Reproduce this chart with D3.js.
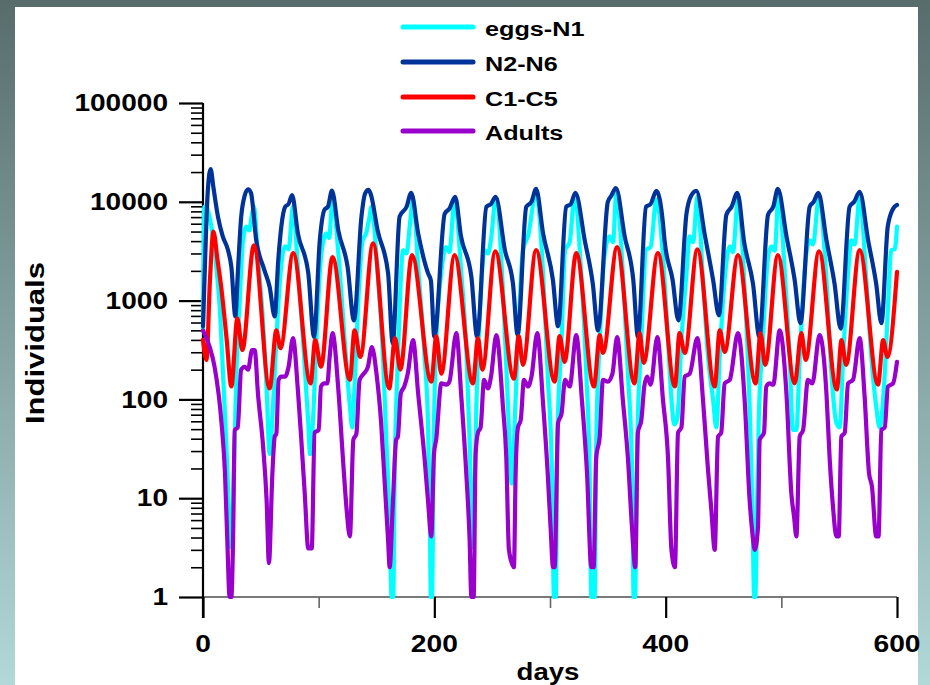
<!DOCTYPE html>
<html>
<head>
<meta charset="utf-8">
<script src="https://cdn.jsdelivr.net/npm/d3@7"></script>
<style>
  body { margin: 0; }
  svg { display: block; }
  text { font-family: "Liberation Sans", Arial, sans-serif; font-weight: bold; fill: #000; }
</style>
</head>
<body>
<svg id="chart" width="930" height="685"></svg>
<script>
// ---- data: [day, individuals] ----
const seriesNames = ["eggs-N1", "N2-N6", "C1-C5", "Adults"];
const seriesColors = ["#00ffff", "#003399", "#ff0000", "#9900cc"];
const xTickValues = [0, 200, 400, 600];
const xMinorValues = [100, 300, 500];
const yTickValues = [1, 10, 100, 1000, 10000, 100000];
const yTickLabels = ["1", "10", "100", "1000", "10000", "100000"];

const eggsN1 = [[0,500],[1,8900],[3,8900],[5,7600],[7.2,5620],[11.5,2190],[14.4,870],[17.3,182],[20,39],[22,10],[24,3.2],[26,7.9],[28.8,182],[31.7,1000],[34.6,4070],[37.5,5620],[40,5130],[42.4,7600],[44,8900],[47.5,2750],[52,589],[55,126],[57.6,28],[60.5,85],[63.4,398],[67,1900],[71,3550],[74,3300],[77.8,8900],[82,2190],[86.5,398],[91,58],[92.5,28],[95,58],[98,398],[102,2750],[106.6,4790],[109,4300],[112,10500],[117,3020],[122.5,398],[127,85],[129,52],[131,135],[134,870],[138,4070],[141,4790],[144,7080],[145.5,8900],[151,1900],[155.6,269],[158.5,39],[161.4,5.5],[163,1],[164.5,1],[165.7,18],[168,182],[170,870],[173,3240],[176,3000],[178.7,5620],[181.6,10500],[186,2190],[191.6,269],[194.5,58],[196,7.9],[197,1],[198,1],[199.5,40],[201.7,398],[206,1900],[210,3470],[213,3100],[217.5,10500],[223.3,1900],[227.6,339],[230.5,39],[233,3.2],[234.5,7.9],[236.3,85],[239,589],[243.5,3240],[246.4,3000],[249,4170],[253,10500],[259.3,1290],[263.7,85],[267,14],[270,85],[273,589],[276.6,3240],[281,4500],[288,12300],[294,1900],[298,182],[301.7,18],[303.4,1],[305,1],[306.3,39],[310,398],[313,3240],[317,3900],[321,10500],[327,1900],[331.4,182],[334.3,18],[335.7,1],[338.6,1],[340,39],[343,398],[347,2750],[351.6,4470],[354.5,3900],[357.3,12300],[363,1900],[367.4,182],[371,18],[372.3,1],[373.5,1],[375.5,39],[379,398],[383,3240],[387,3500],[392,10500],[397.7,2750],[402,398],[405,100],[407.5,56],[410,63],[413.6,398],[418,1900],[420.8,4470],[423.7,3900],[427.4,11200],[432.3,1620],[436.6,269],[441,100],[443.8,52],[446.7,269],[451,1620],[455.4,3550],[458.2,3100],[462.5,10500],[468.3,1290],[472.6,85],[475,8.1],[476.5,1],[477.5,1],[479,8.1],[480.4,58],[484,398],[488.5,2750],[491.4,3550],[494.3,3200],[497.7,12300],[503,1900],[507.2,269],[510,49],[513,49],[515.9,269],[520,1900],[524.5,4070],[527.4,3700],[532.3,10500],[539,1620],[543.3,182],[547.6,58],[550.5,52],[553.4,269],[557.7,1900],[560.5,4070],[563.4,3700],[567.7,11200],[573.5,1620],[577.8,269],[582,85],[585,52],[589.4,182],[592.2,870],[595,3240],[598,3300],[600,5620]];

const n2n6 = [[0,550],[2,3000],[4,12000],[6.6,21400],[9,14000],[13,7000],[17,4500],[21.6,3250],[24.5,2200],[28,690],[30,1800],[33,7000],[36,11500],[39,13400],[41.5,12300],[46,4100],[53,2050],[57.6,1380],[62,690],[65,2500],[67.7,5600],[71,8900],[74,9500],[77,11700],[82,4800],[91,1900],[96,430],[101,4100],[105,8300],[108,8900],[111.5,13000],[117,5100],[125,2200],[130.5,630],[137,7100],[140,12000],[143,13200],[145,12000],[151,5100],[160,1900],[164,370],[170,7100],[176,8900],[180,12300],[186,4800],[194.5,1900],[197,1600],[200,430],[209,7600],[213,8500],[218,11200],[223,4500],[232,1740],[237,430],[245,8900],[249,9500],[253,11200],[261,3240],[268,1480],[272,450],[279.5,8900],[284,10000],[288,13500],[294,4800],[302.5,1620],[307,550],[314,8900],[318,9500],[322,12300],[330,4100],[337,1480],[341.5,500],[350,10000],[353,11500],[357,13800],[364.5,4500],[372,1620],[376,430],[383,8900],[387,9500],[392,12900],[397.7,6000],[399,4100],[406,1620],[411,630],[418,7600],[422,11500],[426.5,12900],[434,4500],[441,1620],[446,710],[452.5,7400],[457,8900],[462,12300],[468,3800],[475.5,1480],[481,430],[488.5,7400],[493,8900],[497,13500],[504.4,4500],[511.5,1620],[516.5,590],[524.5,8900],[528,10000],[532,12300],[539,4100],[546,1480],[551.3,520],[559,8900],[563,10000],[567.7,12600],[575,4100],[582,1480],[586.5,590],[592,5600],[596.6,8500],[600,9300]];

const c1c5 = [[0,400],[3,250],[6,1600],[9,5000],[12.5,2600],[16,1290],[20.5,400],[24.5,135],[29.7,660],[34,316],[44,3630],[57.6,129],[63.4,500],[67,331],[78,3020],[93,145],[97,398],[102,214],[112,2750],[127,158],[131,500],[136,269],[147,3800],[161,129],[166,417],[170.6,200],[180.7,2880],[197.4,151],[201.7,437],[206,182],[217.5,2880],[233.4,145],[237.7,417],[241.5,200],[252.7,3160],[268.8,162],[273,437],[276.6,224],[288,3240],[304,151],[308.3,437],[312.6,240],[322.7,3020],[338,135],[343,447],[345.8,295],[358,3470],[373,145],[377.5,468],[381,234],[393.3,3020],[408,135],[412,468],[416.5,295],[427.4,3310],[442.4,135],[446.7,500],[451,302],[462.5,2880],[477.8,145],[482,468],[486,224],[497,2880],[511.6,145],[517.3,468],[521,251],[532.6,3160],[548,126],[552,398],[556,224],[567.7,3240],[583.6,141],[588,398],[591.7,269],[600,1950]];

const adults = [[0,500],[5.8,339],[10,214],[16,58],[19,18],[21,3.8],[23,1],[24.5,1],[26,3.8],[27.4,49],[30,52],[33,200],[36,214],[39,200],[42.4,316],[44.7,316],[47.5,115],[52,33],[55,9.5],[57,2.2],[60,18],[62,42],[63.4,45],[65.4,158],[67.7,170],[71,170],[74,214],[77.8,417],[82,126],[85,39],[88,11],[91,3.1],[94,3.1],[96.5,46],[100,49],[102,135],[105,145],[107.5,145],[109.5,269],[112,468],[117,126],[121,25],[124,8.1],[127,4.1],[130,39],[132.6,45],[135.4,158],[139,182],[142.6,214],[146,339],[150,182],[154,58],[157,15],[160,3.8],[161.4,2.0],[164,8.1],[167,39],[168.5,42],[171,115],[174,135],[177,182],[181.6,398],[186,115],[191.6,25],[194.5,9.5],[197.4,4.1],[199.7,28],[201.7,40],[206,145],[210.4,141],[213,151],[219,468],[223.3,107],[227.6,18],[230.5,3.8],[232,1],[234,1],[235.7,28],[237.7,46],[240,52],[243,158],[246.4,129],[249,170],[253.6,447],[259.3,85],[262.2,26],[264.5,3.0],[268.8,2.0],[270.3,18],[272.3,52],[274.7,62],[277.5,158],[281,135],[284,170],[289,468],[294,91],[298,18],[300.5,5.1],[302.6,2.0],[304,2.0],[307,58],[310,72],[313,158],[317,135],[322.7,447],[327.6,98],[332,18],[335.7,2.0],[337.7,2.0],[340,26],[343,42],[345.8,158],[350,151],[354,182],[358,427],[363,98],[367.4,25],[371,4.8],[373.7,2.0],[376,46],[379,62],[381.5,135],[384,170],[387,141],[392.8,427],[397.7,98],[402,26],[405,3.0],[408,2.0],[410.7,46],[413.6,52],[416.5,170],[420.8,182],[427.4,417],[432.3,98],[436.6,19.5],[439.5,7.6],[442.4,3.0],[445.3,42],[448,46],[451,145],[455.4,158],[462.5,468],[468.3,98],[472.6,9.5],[475,4.4],[477,3.0],[479.8,5.0],[481.3,39],[485,46],[487,135],[490,145],[493,141],[498.6,500],[504.4,115],[508.7,11],[511,6.5],[513,4.1],[515.9,42],[518.8,49],[523,158],[526.8,145],[533,447],[539,115],[541.8,25],[544.7,8.1],[547.6,4.1],[549.6,4.1],[551.9,42],[554.8,46],[557.7,145],[562,158],[567.7,417],[572,107],[575.8,18],[578.4,13],[582,4.1],[584,4.1],[586.5,49],[589.4,52],[592.2,135],[596.6,145],[600,240]];

const allSeries = [eggsN1, n2n6, c1c5, adults];

// ---- drawing ----
const svg = d3.select("#chart");

const defs = svg.append("defs");
const grad = defs.append("linearGradient").attr("id", "bg").attr("x1", 0).attr("y1", 0).attr("x2", 0).attr("y2", 1);
grad.append("stop").attr("offset", "0%").attr("stop-color", "#586c6c");
grad.append("stop").attr("offset", "100%").attr("stop-color", "#b2d8d8");
svg.append("rect").attr("width", 930).attr("height", 685).attr("fill", "url(#bg)");
svg.append("rect").attr("x", 15).attr("y", 7).attr("width", 903).attr("height", 690).attr("fill", "#fff");

const x = d3.scaleLinear().domain([0, 600]).range([203, 897]);
const y = d3.scaleLog().domain([1, 100000]).range([597, 103]);

// minor log ticks on the y axis
const yMinor = [];
for (let d = 1; d < 100000; d *= 10) for (let k = 2; k <= 9; k++) yMinor.push(d * k);

svg.append("g").attr("transform", "translate(203,0)")
  .call(d3.axisLeft(y).tickValues(yMinor).tickSize(12).tickFormat(""))
  .call(g => g.select(".domain").remove())
  .call(g => g.selectAll("line").attr("stroke", "#000").attr("stroke-width", 1.6));

svg.append("g").attr("transform", "translate(203,0)")
  .call(d3.axisLeft(y).tickValues(yTickValues).tickSize(24).tickFormat(""))
  .call(g => g.select(".domain").remove())
  .call(g => g.selectAll("line").attr("stroke", "#000").attr("stroke-width", 2.2));

// x axis baseline and ticks
svg.append("line").attr("x1", x(0)).attr("x2", x(600)).attr("y1", y(1)).attr("y2", y(1))
  .attr("stroke", "#7a7a7a").attr("stroke-width", 2);

svg.append("g").attr("transform", `translate(0,${y(1)})`)
  .call(d3.axisBottom(x).tickValues(xMinorValues).tickSize(11).tickFormat(""))
  .call(g => g.select(".domain").remove())
  .call(g => g.selectAll("line").attr("stroke", "#666").attr("stroke-width", 1.6));

svg.append("g").attr("transform", `translate(0,${y(1)})`)
  .call(d3.axisBottom(x).tickValues(xTickValues).tickSize(21).tickFormat(""))
  .call(g => g.select(".domain").remove())
  .call(g => g.selectAll("line").attr("stroke", "#000").attr("stroke-width", 2.2));

// y axis line
svg.append("line").attr("x1", 203).attr("x2", 203).attr("y1", y(100000)).attr("y2", y(1) + 21)
  .attr("stroke", "#000").attr("stroke-width", 2.2);

// series lines
const line = d3.line()
  .x(d => x(d[0]))
  .y(d => y(Math.max(1, d[1])))
  .curve(d3.curveMonotoneX);

allSeries.forEach((s, i) => {
  svg.append("path").datum(s)
    .attr("d", line)
    .attr("fill", "none")
    .attr("stroke", seriesColors[i])
    .attr("stroke-width", 4.2)
    .attr("stroke-linejoin", "round")
    .attr("stroke-linecap", "round");
});

// tick labels
yTickValues.forEach((v, i) => {
  svg.append("text")
    .attr("transform", `translate(168,${y(v)}) scale(1.22,1)`)
    .attr("text-anchor", "end")
    .attr("dy", "0.36em")
    .style("font-size", "23px")
    .text(yTickLabels[i]);
});
xTickValues.forEach(v => {
  svg.append("text")
    .attr("transform", `translate(${x(v)},652) scale(1.2,1)`)
    .attr("text-anchor", "middle")
    .style("font-size", "23.5px")
    .text(v);
});

// axis titles
svg.append("text")
  .attr("transform", "translate(548,680) scale(1.15,1)")
  .attr("text-anchor", "middle")
  .style("font-size", "24px")
  .text("days");

svg.append("text")
  .attr("transform", "translate(44,343) rotate(-90)")
  .attr("text-anchor", "middle")
  .attr("textLength", 162)
  .attr("lengthAdjust", "spacingAndGlyphs")
  .style("font-size", "25px")
  .text("Individuals");

// legend
const legendRows = [27, 62, 97, 131];
seriesNames.forEach((name, i) => {
  svg.append("line")
    .attr("x1", 403).attr("x2", 473)
    .attr("y1", legendRows[i]).attr("y2", legendRows[i])
    .attr("stroke", seriesColors[i]).attr("stroke-width", 5)
    .attr("stroke-linecap", "round");
  svg.append("text")
    .attr("transform", `translate(485,${legendRows[i] + 9}) scale(1.2,1)`)
    .style("font-size", "21px")
    .text(name);
});
</script>
</body>
</html>
